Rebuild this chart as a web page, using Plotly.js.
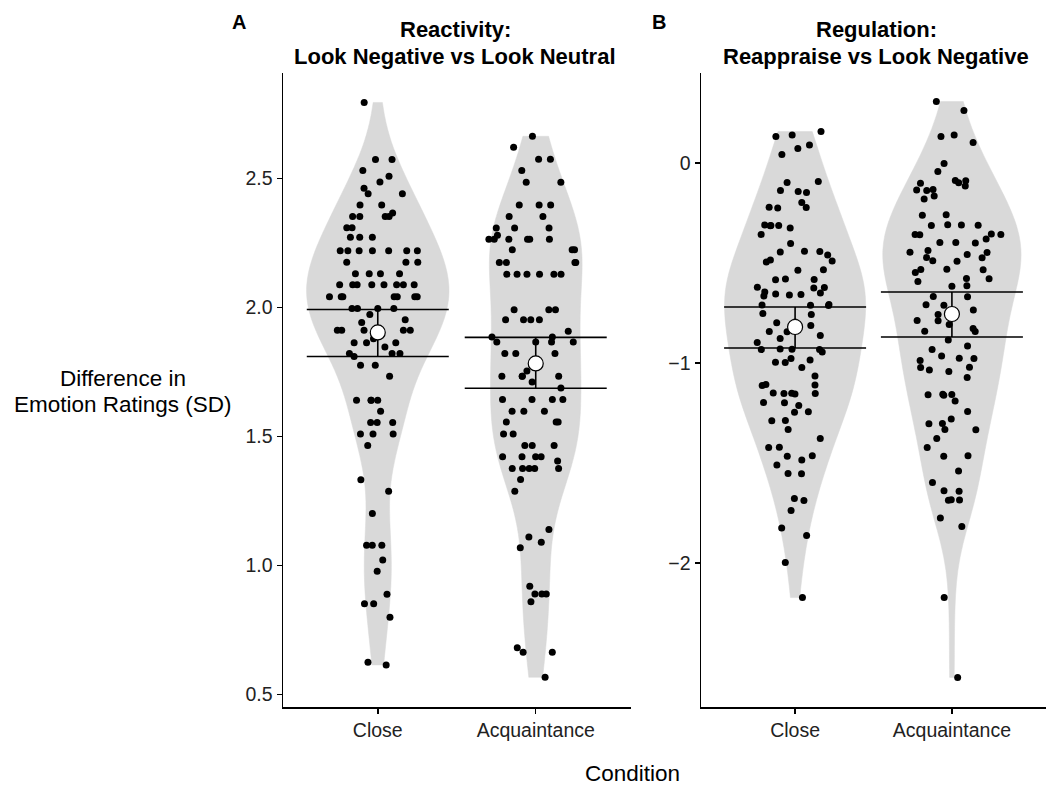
<!DOCTYPE html>
<html>
<head>
<meta charset="utf-8">
<script src="https://cdn.plot.ly/plotly-3.0.1.min.js"></script>
<style>html,body{margin:0;padding:0;background:#fff;}#chart{width:1048px;height:786px;}</style>
</head>
<body>
<div id="chart"></div>
<script>
const categories = ['Close', 'Acquaintance'];

// Panel A: Reactivity (Look Negative vs Look Neutral)
const reactClose = [
  2.794, 2.573, 2.573, 2.530, 2.508, 2.486, 2.462, 2.440, 2.440, 2.397, 2.397,
  2.366, 2.352, 2.352, 2.352, 2.352, 2.309, 2.309, 2.272, 2.272, 2.272,
  2.219, 2.219, 2.219, 2.219, 2.219, 2.219, 2.219, 2.175, 2.175, 2.175,
  2.130, 2.130, 2.130, 2.130, 2.088, 2.088, 2.088, 2.088, 2.088, 2.088, 2.088, 2.088,
  2.041, 2.041, 2.041, 2.041, 2.041, 2.041, 2.041, 1.996, 1.996, 1.996, 1.996,
  1.972, 1.952, 1.941, 1.911, 1.911, 1.911, 1.911, 1.911, 1.911, 1.879,
  1.863, 1.863, 1.863, 1.847, 1.821, 1.821, 1.821, 1.810, 1.776, 1.776, 1.733,
  1.640, 1.640, 1.640, 1.640, 1.598, 1.554, 1.554, 1.554, 1.510, 1.510, 1.510,
  1.465, 1.332, 1.288, 1.202, 1.079, 1.079, 1.079, 1.021, 0.978, 0.889,
  0.852, 0.852, 0.800, 0.625, 0.615
];
const reactAcq = [
  2.663, 2.620, 2.574, 2.574, 2.530, 2.485, 2.485, 2.397, 2.397, 2.397,
  2.352, 2.352, 2.308, 2.308, 2.308, 2.279, 2.264, 2.264, 2.264, 2.264, 2.264, 2.264,
  2.223, 2.223, 2.223, 2.174, 2.174, 2.174, 2.174, 2.128, 2.128, 2.128, 2.128, 2.128, 2.128,
  1.991, 1.991, 1.991, 1.952, 1.952, 1.952, 1.952, 1.908, 1.885, 1.885,
  1.866, 1.866, 1.866, 1.866, 1.821, 1.821, 1.821, 1.754, 1.733, 1.733, 1.733, 1.733,
  1.711, 1.688, 1.643, 1.643, 1.643, 1.643, 1.598, 1.598, 1.598, 1.556, 1.556, 1.556,
  1.510, 1.510, 1.465, 1.465, 1.465, 1.421, 1.421, 1.421, 1.421, 1.405,
  1.376, 1.376, 1.376, 1.376, 1.376, 1.333, 1.288, 1.140, 1.111, 1.090, 1.069,
  0.920, 0.890, 0.890, 0.890, 0.860, 0.682, 0.664, 0.664, 0.567
];
const reactMean = [1.903, 1.783];
const reactLow = [1.810, 1.687];
const reactHigh = [1.992, 1.884];

// Panel B: Regulation (Reappraise vs Look Negative)
const regClose = [
  0.157, 0.140, 0.132, 0.090, 0.073, 0.043, -0.092, -0.098, -0.137, -0.143, -0.148,
  -0.198, -0.221, -0.223, -0.225, -0.310, -0.312, -0.313, -0.314, -0.325, -0.357, -0.402,
  -0.441, -0.443, -0.445, -0.460, -0.485, -0.490, -0.495, -0.534, -0.536,
  -0.580, -0.582, -0.584, -0.621, -0.623, -0.625, -0.645, -0.650, -0.655, -0.658, -0.660, -0.665,
  -0.708, -0.710, -0.711, -0.712, -0.753, -0.757, -0.795, -0.799, -0.813, -0.842, -0.844,
  -0.863, -0.877, -0.897, -0.930, -0.931, -0.932, -0.933, -0.945, -0.977, -0.985, -0.996, -0.998,
  -1.022, -1.065, -1.108, -1.110, -1.112, -1.150, -1.151, -1.152, -1.153, -1.155,
  -1.197, -1.199, -1.212, -1.244, -1.246, -1.287, -1.289, -1.332, -1.377, -1.421, -1.423,
  -1.464, -1.466, -1.485, -1.510, -1.552, -1.554, -1.677, -1.687, -1.738, -1.825, -1.863,
  -1.997, -2.173
];
const regAcq = [
  0.307, 0.262, 0.140, 0.132, 0.102, -0.002, -0.043, -0.087, -0.089, -0.099, -0.101,
  -0.115, -0.133, -0.135, -0.137, -0.165, -0.180, -0.259, -0.261, -0.309, -0.310, -0.311, -0.312,
  -0.355, -0.357, -0.358, -0.359, -0.380, -0.397, -0.398, -0.400, -0.437, -0.446, -0.448, -0.457,
  -0.472, -0.474, -0.489, -0.491, -0.531, -0.532, -0.534, -0.548, -0.577, -0.579, -0.593,
  -0.614, -0.616, -0.667, -0.669, -0.709, -0.711, -0.735, -0.757, -0.787, -0.789, -0.807,
  -0.827, -0.841, -0.843, -0.885, -0.915, -0.932, -0.965, -0.976, -0.978, -0.988,
  -1.021, -1.023, -1.035, -1.043, -1.072, -1.156, -1.158, -1.159, -1.161, -1.190,
  -1.243, -1.280, -1.302, -1.304, -1.332, -1.334, -1.377, -1.422, -1.464, -1.466,
  -1.540, -1.597, -1.639, -1.641, -1.684, -1.685, -1.686, -1.775, -1.818, -2.173, -2.572
];
const regMean = [-0.820, -0.755];
const regLow = [-0.925, -0.870];
const regHigh = [-0.720, -0.645];

const yTicksA = [0.5, 1.0, 1.5, 2.0, 2.5];
const yTicksB = [-2, -1, 0];

// R's bw.nrd0 bandwidth (ggplot2 default)
function nrd0(v) {
  const n = v.length;
  const s = v.slice().sort((a, b) => a - b);
  const m = s.reduce((a, b) => a + b, 0) / n;
  const sd = Math.sqrt(s.reduce((a, b) => a + (b - m) * (b - m), 0) / (n - 1));
  const q = p => { const h = (n - 1) * p; const lo = Math.floor(h); return s[lo] + (h - lo) * (s[Math.min(lo + 1, n - 1)] - s[lo]); };
  const iqr = q(0.75) - q(0.25);
  let lo = Math.min(sd, iqr / 1.34);
  if (!(lo > 0)) lo = sd || Math.abs(s[0]) || 1;
  return 0.9 * lo * Math.pow(n, -0.2);
}

const FONT = 'Liberation Sans, Arial, Helvetica, sans-serif';
const GREY = 'rgb(217,217,217)';

function violin(vals, cat, xa, ya, group) {
  return {
    type: 'violin', x: vals.map(() => cat), y: vals, xaxis: xa, yaxis: ya,
    name: cat, scalegroup: group, scalemode: 'width', spanmode: 'hard',
    bandwidth: nrd0(vals),
    fillcolor: GREY, line: { color: GREY, width: 0.5 }, opacity: 1,
    points: 'all', pointpos: 0, jitter: 0.7,
    marker: { color: 'black', size: 7, line: { width: 0 } },
    box: { visible: false }, meanline: { visible: false },
    hoverinfo: 'skip', showlegend: false
  };
}

function meanTrace(means, lows, highs, xa, ya) {
  return {
    type: 'scatter', mode: 'markers', x: categories, y: means, xaxis: xa, yaxis: ya,
    error_y: {
      type: 'data', symmetric: false,
      array: highs.map((h, i) => h - means[i]),
      arrayminus: lows.map((l, i) => means[i] - l),
      width: 71, thickness: 1.6, color: 'black'
    },
    marker: { size: 15, color: 'white', line: { color: 'black', width: 1.2 } },
    hoverinfo: 'skip', showlegend: false
  };
}

const data = [
  violin(reactClose, categories[0], 'x', 'y', 'A'),
  violin(reactAcq, categories[1], 'x', 'y', 'A'),
  violin(regClose, categories[0], 'x2', 'y2', 'B'),
  violin(regAcq, categories[1], 'x2', 'y2', 'B'),
  meanTrace(reactMean, reactLow, reactHigh, 'x', 'y'),
  meanTrace(regMean, regLow, regHigh, 'x2', 'y2')
];

const W = 1048, H = 786;
const px = v => v / W;
const py = v => 1 - v / H;

const xBase = {
  type: 'category', categoryorder: 'array', categoryarray: categories,
  range: [-0.6, 1.6], showline: true, linecolor: 'black', linewidth: 1.5,
  ticks: 'outside', ticklen: 5, tickwidth: 1.5, tickcolor: 'black',
  tickfont: { family: FONT, size: 19.5, color: '#222' },
  showgrid: false, zeroline: false, fixedrange: true
};
const yBase = {
  showline: true, linecolor: 'black', linewidth: 1.5,
  ticks: 'outside', ticklen: 5, tickwidth: 1.5, tickcolor: 'black',
  tickfont: { family: FONT, size: 19.5, color: '#222' },
  showgrid: false, zeroline: false, fixedrange: true, tickmode: 'array'
};

function label(text, x, y, size) {
  return { text: text, x: px(x), y: py(y), xref: 'paper', yref: 'paper', showarrow: false,
           xanchor: 'center', yanchor: 'middle', borderpad: 0, font: { family: FONT, size: size } };
}

const layout = {
  width: W, height: H,
  margin: { l: 0, r: 0, t: 0, b: 0 },
  paper_bgcolor: 'white', plot_bgcolor: 'white',
  violinmode: 'overlay', violingap: 0.1, violingroupgap: 0,
  font: { family: FONT, color: 'black' },
  xaxis: Object.assign({}, xBase, { domain: [px(283), px(630.5)], anchor: 'y' }),
  yaxis: Object.assign({}, yBase, {
    domain: [1 - 707 / H, 1 - 73 / H], anchor: 'x', range: [0.452, 2.908],
    tickvals: yTicksA, ticktext: yTicksA.map(v => v.toFixed(1))
  }),
  xaxis2: Object.assign({}, xBase, { domain: [px(701), px(1046)], anchor: 'y2' }),
  yaxis2: Object.assign({}, yBase, {
    domain: [1 - 707 / H, 1 - 73 / H], anchor: 'x2', range: [-2.72, 0.45],
    tickvals: yTicksB, ticktext: yTicksB.map(v => v === 0 ? '0' : '\u2212' + Math.abs(v))
  }),
  annotations: [
    label('<b>A</b>', 239, 22, 20),
    label('<b>B</b>', 659, 22, 20),
    label('<b>Reactivity:</b>', 455, 30, 22),
    label('<b>Look Negative vs Look Neutral</b>', 455, 56.5, 22),
    label('<b>Regulation:</b>', 876, 30, 22),
    label('<b>Reappraise vs Look Negative</b>', 876, 56.5, 22),
    label('Difference in', 123, 378, 22.5),
    label('Emotion Ratings (SD)', 123, 404, 22.5),
    label('Condition', 632, 773, 22.5)
  ]
};

Plotly.newPlot('chart', data, layout, { displayModeBar: false, staticPlot: true });
</script>
</body>
</html>
